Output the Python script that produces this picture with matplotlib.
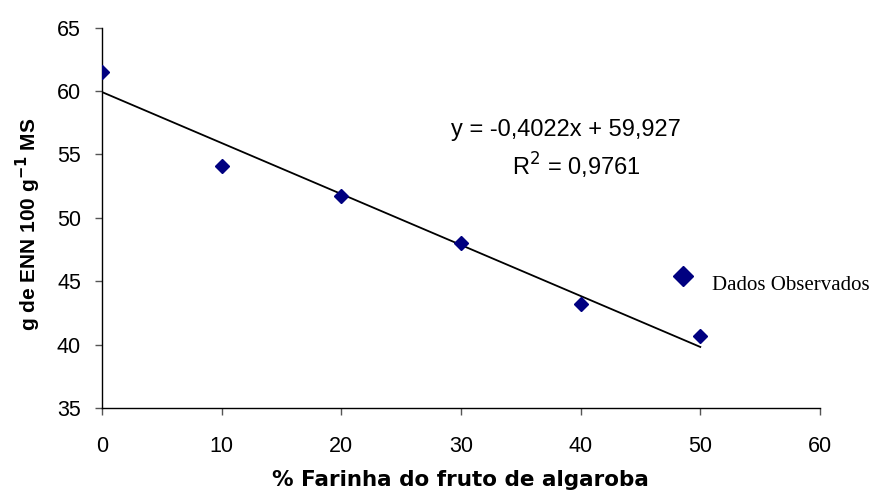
import matplotlib
matplotlib.use("Agg")
import matplotlib.pyplot as plt
import numpy as np

farinha = [0, 10, 20, 30, 40, 50]
enn = [61.5, 54.1, 51.7, 48.0, 43.2, 40.7]
slope = -0.4022
intercept = 59.927
r2 = 0.9761
xticks = [0, 10, 20, 30, 40, 50, 60]
yticks = [35, 40, 45, 50, 55, 60, 65]

plt.rcParams['font.family'] = ['Liberation Sans', 'DejaVu Sans']

fig = plt.figure(figsize=(8.71, 5.01), dpi=100)
ax = fig.add_axes([0.117, 0.1856, 0.8244, 0.7591])

navy = '#000080'
ax.plot(farinha, enn, linestyle='none', marker='D', markersize=7.5,
        color=navy, zorder=3)
xl = np.array([farinha[0], farinha[-1]])
ax.plot(xl, slope * xl + intercept, color='black', linewidth=1.3, zorder=2)

ax.set_xlim(0, 60)
ax.set_ylim(35, 65)
ax.set_xticks(xticks)
ax.set_yticks(yticks)
ax.tick_params(axis='both', labelsize=15.5, length=5, width=1, color='#555555')
ax.tick_params(axis='x', pad=15)
ax.tick_params(axis='y', pad=10)
for s in ['top', 'right']:
    ax.spines[s].set_visible(False)
for s in ['left', 'bottom']:
    ax.spines[s].set_linewidth(1)
    ax.spines[s].set_color('black')

ax.set_xlabel('% Farinha do fruto de algaroba', fontsize=15.5,
              fontweight='bold', family=['DejaVu Sans'])
ax.xaxis.set_label_coords(0.5, (408 - 480) / 380.3)
ax.xaxis.label.set_va('center')
ax.set_ylabel('g de ENN 100 g$^{\\mathbf{-1}}$ MS', fontsize=15,
              fontweight='bold')
ax.yaxis.set_label_coords((28 - 102) / 718.3, 0.484)
ax.yaxis.label.set_va('center')

eq = 'y = {:.4f}x + {:.3f}'.format(slope, intercept).replace('.', ',')
ax.text(38.76, 56.97, eq, fontsize=17, ha='center', va='center')
ax.text(39.6, 54.1, 'R$^2$ = ' + '{:.4f}'.format(r2).replace('.', ','),
        fontsize=17, ha='center', va='center')

# legend-like annotation
ax.plot([48.54], [45.44], linestyle='none', marker='D', markersize=10.5,
        color=navy, clip_on=False)
ax.text(50.96, 44.31, 'Dados Observados', fontsize=15, ha='left',
        va='baseline', family=['Liberation Serif', 'DejaVu Serif'])

fig.savefig('out.png', dpi=100)
